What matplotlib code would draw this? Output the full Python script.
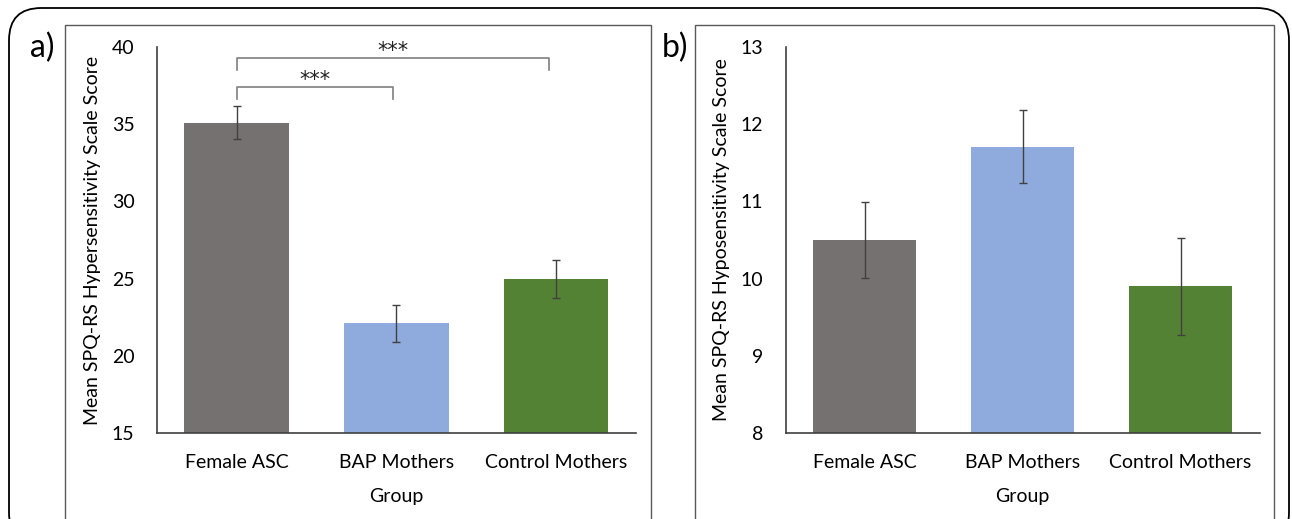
import matplotlib
matplotlib.use("Agg")
import matplotlib.pyplot as plt
from matplotlib.patches import Rectangle, FancyBboxPatch

plt.rcParams['font.family'] = ['Lato', 'DejaVu Sans']

groups = ["Female ASC", "BAP Mothers", "Control Mothers"]
colors = ["#767171", "#8FAADC", "#548235"]

# panel a: hypersensitivity
hyper_mean = [35.1, 22.1, 25.0]
hyper_err = [1.07, 1.2, 1.23]
hyper_ticks = [15, 20, 25, 30, 35, 40]

# panel b: hyposensitivity
hypo_mean = [10.5, 11.71, 9.9]
hypo_err = [0.49, 0.47, 0.63]
hypo_ticks = [8, 9, 10, 11, 12, 13]

W, H = 1292, 519
fig = plt.figure(figsize=(W / 100, H / 100), dpi=100)


def px_axes(left, right, top, bottom):
    return fig.add_axes([left / W, 1 - bottom / H, (right - left) / W, (bottom - top) / H])


# outer frame and panel boxes
fig.patches.append(FancyBboxPatch((9 / W, -0.05), (1289 - 9) / W, (1 - 8 / H) + 0.05,
                                  boxstyle="round,pad=0,rounding_size=0.025",
                                  transform=fig.transFigure, fill=False,
                                  edgecolor="black", linewidth=1.3, mutation_aspect=W / H))
for x0, x1 in [(65, 651), (695, 1274)]:
    fig.patches.append(Rectangle((x0 / W, -0.05), (x1 - x0) / W, (1 - 25 / H) + 0.05,
                                 transform=fig.transFigure, fill=False,
                                 edgecolor="#595959", linewidth=1.0))


def draw_panel(ax, means, errs, ticks, ylabel):
    x = range(len(groups))
    ax.bar(x, [m - ticks[0] for m in means], bottom=ticks[0], width=0.655, color=colors, zorder=2)
    ax.errorbar(x, means, yerr=errs, fmt="none", ecolor="#404040", elinewidth=1.0,
                capsize=3, capthick=1.0, zorder=3)
    ax.set_xlim(-0.5, 2.5)
    ax.set_ylim(ticks[0], ticks[-1])
    ax.set_yticks(ticks)
    ax.set_xticks(list(x))
    ax.set_xticklabels(groups)
    ax.tick_params(axis="both", length=0, labelsize=14, colors="#000000")
    ax.tick_params(axis="y", pad=16)
    ax.tick_params(axis="x", pad=15)
    for s in ["top", "right"]:
        ax.spines[s].set_visible(False)
    for s in ["left", "bottom"]:
        ax.spines[s].set_color("#404040")
        ax.spines[s].set_linewidth(1.2)
    ax.set_xlabel("Group", fontsize=14, labelpad=12)
    ax.set_ylabel(ylabel, fontsize=14, labelpad=8)
    ax.patch.set_alpha(0)


ax_a = px_axes(156.6, 636, 47, 433)
draw_panel(ax_a, hyper_mean, hyper_err, hyper_ticks, "Mean SPQ-RS Hypersensitivity Scale Score")
ax_b = px_axes(785.5, 1259.5, 47, 433)
draw_panel(ax_b, hypo_mean, hypo_err, hypo_ticks, "Mean SPQ-RS Hyposensitivity Scale Score")

# significance brackets on panel a
brackets = [(0, 0.98, 37.4, 36.6, 36.6), (0, 1.955, 39.27, 38.5, 38.5)]
for x0, x1, yh, yl0, yl1 in brackets:
    ax_a.plot([x0, x0, x1, x1], [yl0, yh, yh, yl1], color="#7f7f7f", linewidth=1.2,
              clip_on=False, zorder=4)
    ax_a.text((x0 + x1) / 2, yh + 0.45, "***", ha="center", va="center", fontsize=15,
              family="DejaVu Sans", color="#222222")

fig.text(42 / W, 1 - 48 / H, "a)", fontsize=23, ha="center", va="center")
fig.text(675 / W, 1 - 48 / H, "b)", fontsize=23, ha="center", va="center")

fig.savefig("out.png", dpi=100)
